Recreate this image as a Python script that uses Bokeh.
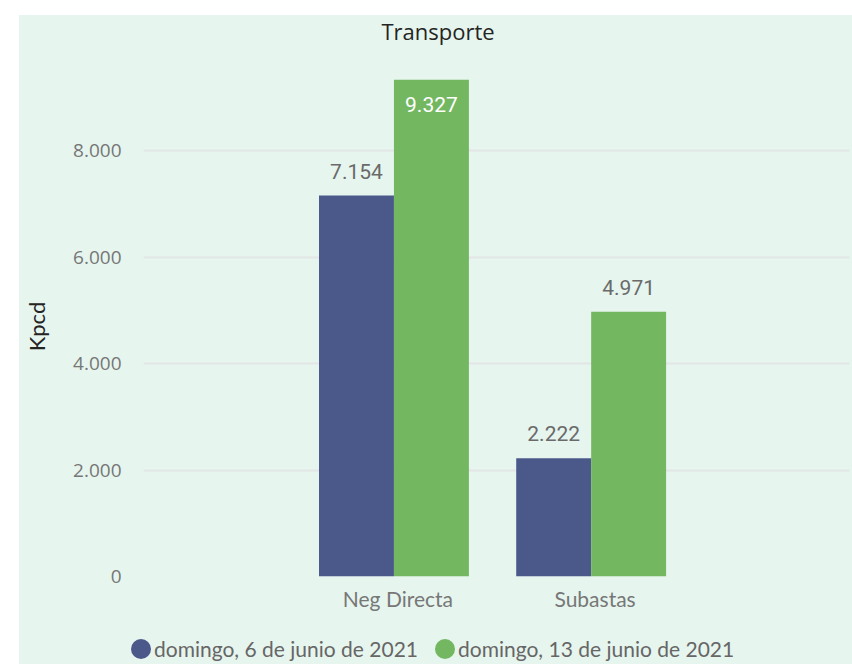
from bokeh.plotting import figure
from bokeh.layouts import column, row
from bokeh.models import (ColumnDataSource, FactorRange, LabelSet, Legend, LegendItem,
                          CustomJSTickFormatter, Label, FixedTicker, Range1d)
from bokeh.core.properties import value
from bokeh.transform import dodge
from bokeh.embed import file_html
from bokeh.resources import INLINE

categories = ["Neg Directa", "Subastas"]
series_names = ["domingo, 6 de junio de 2021", "domingo, 13 de junio de 2021"]
values_jun6 = [7154, 2222]
values_jun13 = [9327, 4971]
y_ticks = [0, 2000, 4000, 6000, 8000]
title_text = "Transporte"
y_label = "Kpcd"

BLUE = "#4A588A"
GREEN = "#73B761"
BG = "#e6f5ee"
FONT = "Lato"
NUM_FONT = "Roboto"
TICK_FONT = "Open Sans"


def fmt(v):
    return f"{v:,}".replace(",", ".")


def blank_fig(h):
    f = figure(width=833, height=h, output_backend="svg", toolbar_location=None,
               x_axis_type=None, y_axis_type=None,
               x_range=Range1d(0, 1), y_range=Range1d(0, 1),
               min_border_left=0, min_border_right=0, min_border_top=0, min_border_bottom=0)
    f.background_fill_alpha = 0
    f.border_fill_alpha = 0
    f.outline_line_color = None
    f.grid.visible = False
    return f


# ---- title strip ----
tf = blank_fig(61)
tf.add_layout(Label(x=418.5, y=46, x_units="screen", y_units="screen", text=title_text,
                    text_font=TICK_FONT, text_font_size="22px", text_color="#252423",
                    text_align="center", text_baseline="middle"))

# ---- main chart ----
src = ColumnDataSource(dict(
    cat=categories,
    a=values_jun6,
    b=values_jun13,
    a_lbl=[fmt(v) for v in values_jun6],
))

p = figure(x_range=FactorRange(*categories, range_padding=0.79),
           y_range=(0, 9390),
           width=833, height=552,
           output_backend="svg", toolbar_location=None,
           min_border_left=124, min_border_right=3,
           min_border_top=0, min_border_bottom=52)
p.background_fill_alpha = 0
p.border_fill_alpha = 0
p.outline_line_color = None

bw = 0.38
shift = -0.02
r1 = p.vbar(x=dodge("cat", shift - bw / 2, range=p.x_range), top="a", width=bw, source=src,
            fill_color=BLUE, line_color=None)
r2 = p.vbar(x=dodge("cat", shift + bw / 2, range=p.x_range), top="b", width=bw, source=src,
            fill_color=GREEN, line_color=None)

# data labels (inside the bar when it would not fit above)
inside = [v > 9000 for v in values_jun13]
src_b_out = ColumnDataSource(dict(cat=[c for c, i in zip(categories, inside) if not i],
                                  b=[v for v, i in zip(values_jun13, inside) if not i],
                                  lbl=[fmt(v) for v, i in zip(values_jun13, inside) if not i]))
src_b_in = ColumnDataSource(dict(cat=[c for c, i in zip(categories, inside) if i],
                                 b=[v for v, i in zip(values_jun13, inside) if i],
                                 lbl=[fmt(v) for v, i in zip(values_jun13, inside) if i]))

common = dict(text_font=value(NUM_FONT), text_font_size=value("21px"), text_align="center")
p.add_layout(LabelSet(x=dodge("cat", shift - bw / 2, range=p.x_range), y="a", text="a_lbl", source=src,
                      y_offset=17, text_baseline="bottom", text_color="#6a6a6a", **common))
p.add_layout(LabelSet(x=dodge("cat", shift + bw / 2, range=p.x_range), y="b", text="lbl", source=src_b_out,
                      y_offset=17, text_baseline="bottom", text_color="#6a6a6a", **common))
p.add_layout(LabelSet(x=dodge("cat", shift + bw / 2, range=p.x_range), y="b", text="lbl", source=src_b_in,
                      y_offset=-17, text_baseline="top", text_color="white", **common))

# axes
p.yaxis.ticker = FixedTicker(ticks=y_ticks)
p.yaxis.formatter = CustomJSTickFormatter(
    code='return tick.toString().replace(/\\B(?=(\\d{3})+(?!\\d))/g, ".");')
p.yaxis.axis_label = y_label
p.yaxis.axis_label_text_font = FONT
p.yaxis.axis_label_text_font_style = "normal"
p.yaxis.axis_label_text_font_size = "22px"
p.yaxis.axis_label_text_color = "#252423"
p.yaxis.axis_label_standoff = 20
for ax in (p.xaxis, p.yaxis):
    ax.axis_line_color = None
    ax.major_tick_line_color = None
    ax.minor_tick_line_color = None
    ax.major_label_text_color = "#777777"
p.yaxis.major_label_text_font = TICK_FONT
p.yaxis.major_label_text_font_size = "19px"
p.xaxis.major_label_text_font = FONT
p.xaxis.major_label_text_font_size = "21px"
p.yaxis.major_label_standoff = 16
p.xaxis.major_label_standoff = 3

p.xgrid.grid_line_color = None
p.ygrid.grid_line_color = "#e2e6e4"
p.ygrid.grid_line_width = 2
p.ygrid.ticker = FixedTicker(ticks=y_ticks)

# ---- legend strip ----
lf = blank_fig(36)
d1 = lf.ellipse(x=[5], y=[5], width=20, height=20, width_units="screen", height_units="screen",
                fill_color=BLUE, line_color=None)
d2 = lf.ellipse(x=[5], y=[5], width=20, height=20, width_units="screen", height_units="screen",
                fill_color=GREEN, line_color=None)
legend = Legend(items=[LegendItem(label=series_names[0], renderers=[d1]),
                       LegendItem(label=series_names[1], renderers=[d2])],
                orientation="horizontal", location=(109, 3),
                label_text_font=FONT, label_text_font_size="21px",
                label_text_color="#666666", glyph_width=25, glyph_height=25,
                label_standoff=1, spacing=14, padding=0, margin=0,
                border_line_color=None, background_fill_alpha=0)
lf.add_layout(legend, "center")

layout = column(row(tf), p, row(lf), spacing=0)
layout.margin = (15, 0, 0, 19)
layout.styles = {"background-color": BG}

open("out.html", "w").write(file_html(layout, INLINE))
